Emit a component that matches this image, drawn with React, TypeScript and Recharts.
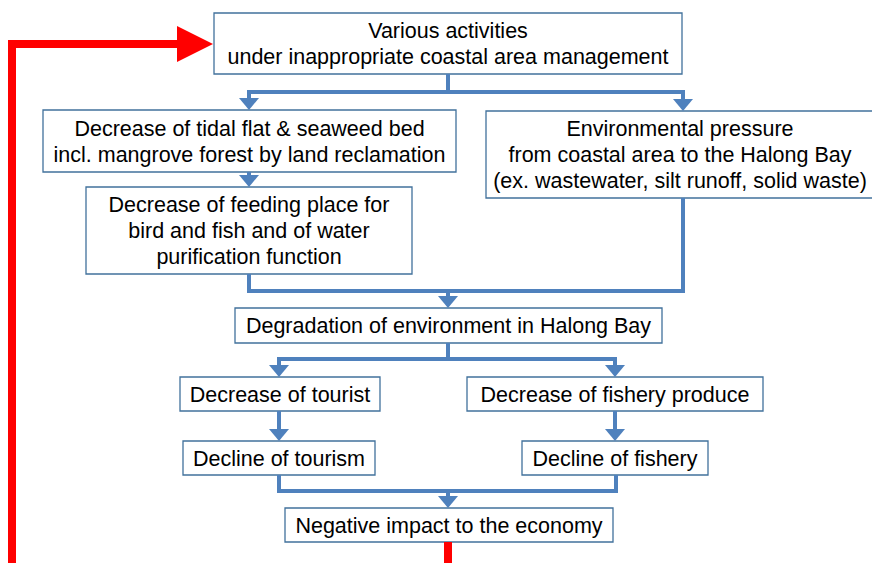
import { ScatterChart, Scatter, XAxis, YAxis, ReferenceArea } from 'recharts'

const W = 872
const H = 563
const BLUE = '#4F81BD'
const BORDER = '#41719C'
const RED = '#FF0000'
const FONT = '"Liberation Sans", Arial, sans-serif'

type Pt = { x: number; y: number }
type Box = { id: string; x1: number; x2: number; y1: number; y2: number; lines: string[] }

// boxes of the flow, in picture units
const boxes: Box[] = [
  { id: 'activities', x1: 214, x2: 682, y1: 13, y2: 74, lines: ['Various activities', 'under inappropriate coastal area management'] },
  { id: 'tidal', x1: 43, x2: 456, y1: 110, y2: 172, lines: ['Decrease of tidal flat & seaweed bed', 'incl. mangrove forest by land reclamation'] },
  { id: 'pressure', x1: 486, x2: 874, y1: 111, y2: 198, lines: ['Environmental pressure', 'from coastal area to the Halong Bay', '(ex. wastewater, silt runoff, solid waste)'] },
  { id: 'feeding', x1: 86, x2: 412, y1: 187, y2: 274, lines: ['Decrease of feeding place for', 'bird and fish and of water', 'purification function'] },
  { id: 'degradation', x1: 235, x2: 662, y1: 308, y2: 343, lines: ['Degradation of environment in Halong Bay'] },
  { id: 'tourist', x1: 180, x2: 380, y1: 377, y2: 411, lines: ['Decrease of tourist'] },
  { id: 'fishery', x1: 467, x2: 763, y1: 377, y2: 411, lines: ['Decrease of fishery produce'] },
  { id: 'tourism', x1: 183, x2: 375, y1: 441, y2: 475, lines: ['Decline of tourism'] },
  { id: 'declineFish', x1: 522, x2: 708, y1: 441, y2: 475, lines: ['Decline of fishery'] },
  { id: 'economy', x1: 285, x2: 613, y1: 508, y2: 542, lines: ['Negative impact to the economy'] },
]

// blue connectors
const bluePaths: Pt[][] = [
  [{ x: 448, y: 74 }, { x: 448, y: 92 }, { x: 249, y: 92 }, { x: 249, y: 100 }],
  [{ x: 448, y: 92 }, { x: 683, y: 92 }, { x: 683, y: 100 }],
  [{ x: 249, y: 172 }, { x: 249, y: 177 }],
  [{ x: 249, y: 274 }, { x: 249, y: 291 }, { x: 683, y: 291 }, { x: 683, y: 198 }],
  [{ x: 448, y: 291 }, { x: 448, y: 298 }],
  [{ x: 448, y: 343 }, { x: 448, y: 359 }, { x: 279, y: 359 }, { x: 279, y: 367 }],
  [{ x: 448, y: 359 }, { x: 615, y: 359 }, { x: 615, y: 367 }],
  [{ x: 279, y: 411 }, { x: 279, y: 431 }],
  [{ x: 615, y: 411 }, { x: 615, y: 431 }],
  [{ x: 279, y: 475 }, { x: 279, y: 491 }, { x: 616, y: 491 }, { x: 616, y: 475 }],
  [{ x: 448, y: 491 }, { x: 448, y: 498 }],
]

// arrow tips (point where the head touches the box)
const blueTips: Pt[] = [
  { x: 249, y: 110 }, { x: 683, y: 111 }, { x: 249, y: 187 }, { x: 448, y: 308 },
  { x: 279, y: 377 }, { x: 615, y: 377 }, { x: 279, y: 441 }, { x: 615, y: 441 }, { x: 448, y: 508 },
]

// red feedback loop
const redPath: Pt[] = [
  { x: 448, y: 542 }, { x: 448, y: 571 }, { x: 12, y: 571 }, { x: 12, y: 44 }, { x: 178, y: 44 },
]
const redTip: Pt[] = [{ x: 213, y: 44 }]

function BoxText(props: any) {
  const { viewBox, lines } = props
  if (!viewBox) return null
  const cx = viewBox.x + viewBox.width / 2
  const cy = viewBox.y + viewBox.height / 2
  const lh = 26
  const start = cy - ((lines.length - 1) * lh) / 2
  return (
    <text textAnchor="middle" fontFamily={FONT} fontSize={21.5} fill="#000">
      {lines.map((l: string, i: number) => (
        <tspan key={i} x={cx} y={start + i * lh} dy="0.36em">{l}</tspan>
      ))}
    </text>
  )
}

const noDot = () => <g />

const BlueHead = (p: any) => (
  <path d={`M${p.cx},${p.cy} l-10,-12 l20,0 z`} fill={BLUE} />
)

const RedHead = (p: any) => (
  <path d={`M${p.cx},${p.cy} l-36,-18 l0,36 z`} fill={RED} />
)

export default function App() {
  return (
    <div style={{ position: 'absolute', left: 0, top: 0, width: W, height: H, background: '#fff' }}>
      <ScatterChart width={W} height={H} margin={{ top: 0, right: 0, bottom: 0, left: 0 }}>
        <XAxis type="number" dataKey="x" domain={[0, W]} hide allowDataOverflow />
        <YAxis type="number" dataKey="y" domain={[0, H]} reversed hide allowDataOverflow />
        {bluePaths.map((p, i) => (
          <Scatter key={'b' + i} data={p} line={{ stroke: BLUE, strokeWidth: 4 }} shape={noDot} isAnimationActive={false} />
        ))}
        <Scatter data={blueTips} shape={BlueHead} isAnimationActive={false} />
        <Scatter data={redPath} line={{ stroke: RED, strokeWidth: 8 }} shape={noDot} isAnimationActive={false} />
        <Scatter data={redTip} shape={RedHead} isAnimationActive={false} />
        {boxes.map(b => (
          <ReferenceArea
            key={b.id}
            x1={b.x1}
            x2={b.x2}
            y1={b.y1}
            y2={b.y2}
            ifOverflow="visible"
            fill="#fff"
            fillOpacity={1}
            stroke={BORDER}
            strokeWidth={1.3}
            label={<BoxText lines={b.lines} />}
          />
        ))}
      </ScatterChart>
    </div>
  )
}
